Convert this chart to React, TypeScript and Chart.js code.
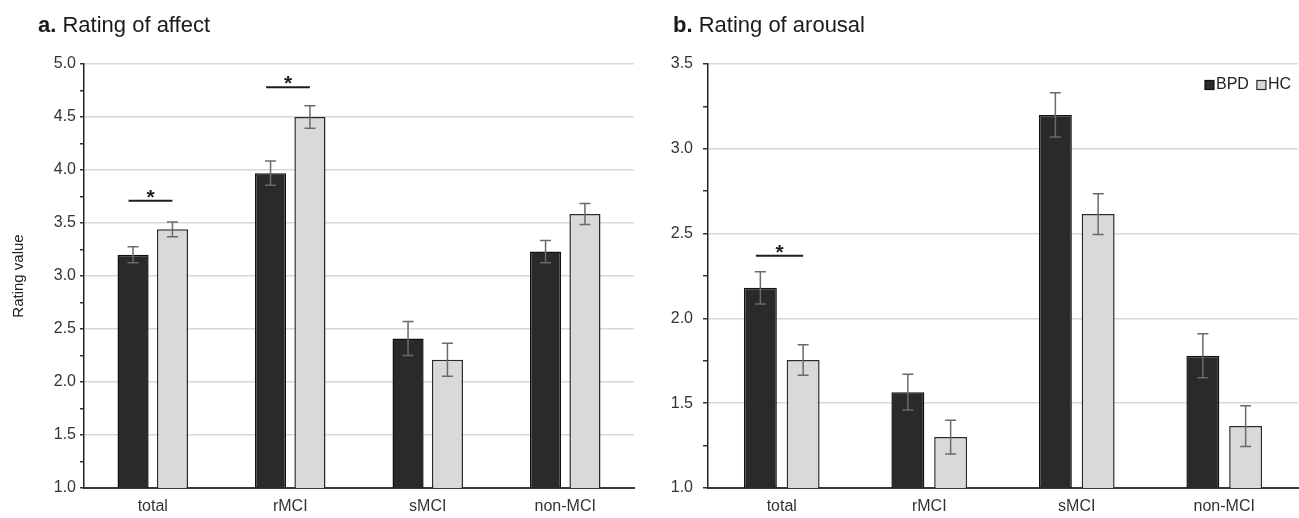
import React, { useEffect, useRef } from "react";
import { Chart, registerables } from "chart.js";

Chart.register(...registerables);

// ---------- data ----------
const categories = ["total", "rMCI", "sMCI", "non-MCI"];
const seriesNames = ["BPD", "HC"];

const affectBPD = [3.2, 3.97, 2.41, 3.23];
const affectBPDErr = [0.075, 0.115, 0.16, 0.105];
const affectHC = [3.44, 4.5, 2.21, 3.585];
const affectHCErr = [0.07, 0.105, 0.155, 0.1];
const affectSig = [3.71, 4.78, null, null];
const affectRange = [1, 5];

const arousalBPD = [2.18, 1.565, 3.2, 1.78];
const arousalBPDErr = [0.095, 0.105, 0.13, 0.13];
const arousalHC = [1.755, 1.3, 2.615, 1.365];
const arousalHCErr = [0.09, 0.1, 0.12, 0.12];
const arousalSig = [2.37, null, null, null];
const arousalRange = [1, 3.5];

const FONT = "'Liberation Sans', Arial, Helvetica, sans-serif";

// ---------- plugins ----------
const errorBarPlugin = {
  id: "errorBars",
  afterDatasetsDraw(chart: any) {
    const ctx = chart.ctx;
    const y = chart.scales.y;
    chart.data.datasets.forEach((ds: any, i: number) => {
      const meta = chart.getDatasetMeta(i);
      const errs = ds.errors || [];
      meta.data.forEach((bar: any, j: number) => {
        const v = ds.data[j];
        const e = errs[j];
        if (v == null || e == null) return;
        const top = y.getPixelForValue(v + e);
        const bot = y.getPixelForValue(v - e);
        ctx.save();
        ctx.strokeStyle = "#6a6a6a";
        ctx.lineWidth = 1.5;
        ctx.beginPath();
        ctx.moveTo(bar.x, top);
        ctx.lineTo(bar.x, bot);
        ctx.moveTo(bar.x - 5.5, top);
        ctx.lineTo(bar.x + 5.5, top);
        ctx.moveTo(bar.x - 5.5, bot);
        ctx.lineTo(bar.x + 5.5, bot);
        ctx.stroke();
        ctx.restore();
      });
    });
  },
};

const sigPlugin = {
  id: "sig",
  afterDatasetsDraw(chart: any, _args: any, opts: any) {
    const vals = (opts && opts.values) || [];
    const ctx = chart.ctx;
    const m0 = chart.getDatasetMeta(0);
    const m1 = chart.getDatasetMeta(1);
    vals.forEach((v: number | null, j: number) => {
      if (v == null) return;
      const x0 = m0.data[j].x - 4.5;
      const x1 = m1.data[j].x;
      const yy = chart.scales.y.getPixelForValue(v);
      ctx.save();
      ctx.strokeStyle = "#1e1e1e";
      ctx.lineWidth = 2;
      ctx.beginPath();
      ctx.moveTo(x0, yy);
      ctx.lineTo(x1, yy);
      ctx.stroke();
      ctx.fillStyle = "#1e1e1e";
      ctx.font = `bold 21px ${FONT}`;
      ctx.textAlign = "center";
      ctx.textBaseline = "alphabetic";
      ctx.fillText("*", (x0 + x1) / 2, yy + 3);
      ctx.restore();
    });
  },
};

// legend drawn in the top-right corner of the plot area, from the datasets
const cornerLegendPlugin = {
  id: "cornerLegend",
  afterDraw(chart: any, _args: any, opts: any) {
    if (!opts || !opts.show) return;
    const ctx = chart.ctx;
    const area = chart.chartArea;
    ctx.save();
    ctx.font = `16px ${FONT}`;
    ctx.textBaseline = "alphabetic";
    ctx.textAlign = "left";
    const baseline = area.top + 25;
    const box = 9;
    const gapBoxText = 2;
    const gapItems = 8;
    const items = chart.data.datasets.map((ds: any) => ({
      label: ds.label,
      fill: ds.backgroundColor,
      stroke: ds.borderColor,
      w: ctx.measureText(ds.label).width,
    }));
    let total = 0;
    items.forEach((it: any, i: number) => {
      total += box + gapBoxText + it.w + (i > 0 ? gapItems : 0);
    });
    let x = area.right - 7 - total;
    items.forEach((it: any, i: number) => {
      if (i > 0) x += gapItems;
      ctx.fillStyle = it.fill;
      ctx.fillRect(x, baseline - 8.5, box, box);
      ctx.strokeStyle = it.stroke;
      ctx.lineWidth = 1.2;
      ctx.strokeRect(x, baseline - 8.5, box, box);
      x += box + gapBoxText;
      ctx.fillStyle = "#222";
      ctx.fillText(it.label, x, baseline);
      x += it.w;
    });
    ctx.restore();
  },
};

// ---------- chart component ----------
type Props = {
  bpd: number[];
  bpdErr: number[];
  hc: number[];
  hcErr: number[];
  sig: (number | null)[];
  range: number[];
  width: number;
  height: number;
  yAxisWidth: number;
  padRight: number;
  tickPad: number;
  tickLen: number;
  cat: number;
  bar: number;
  yTitle?: string;
  legend?: boolean;
};

function BarPanel(p: Props) {
  const ref = useRef<HTMLCanvasElement | null>(null);
  useEffect(() => {
    if (!ref.current) return;
    const isHalf = (v: number) => Math.abs(v * 2 - Math.round(v * 2)) < 1e-6;
    const chart = new Chart(ref.current, {
      type: "bar",
      data: {
        labels: categories,
        datasets: [
          {
            label: seriesNames[0],
            data: p.bpd,
            errors: p.bpdErr,
            backgroundColor: "#2a2a2a",
            borderColor: "#111111",
            borderWidth: 1.5,
          } as any,
          {
            label: seriesNames[1],
            data: p.hc,
            errors: p.hcErr,
            backgroundColor: "#d9d9d9",
            borderColor: "#2a2a2a",
            borderWidth: 1.5,
          } as any,
        ],
      },
      options: {
        responsive: false,
        maintainAspectRatio: false,
        animation: false,
        datasets: {
          bar: {
            categoryPercentage: p.cat,
            barPercentage: p.bar,
            borderSkipped: "bottom",
          },
        },
        layout: { padding: { top: 64, right: p.padRight, left: 0, bottom: 0 } },
        plugins: {
          legend: { display: false },
          tooltip: { enabled: false },
          sig: { values: p.sig },
          cornerLegend: { show: !!p.legend },
        } as any,
        scales: {
          x: {
            grid: { display: true, drawOnChartArea: false, drawTicks: false },
            border: { display: true, color: "#3a3a3a", width: 2 },
            ticks: {
              color: "#333",
              padding: 9,
              font: { family: FONT, size: 16 },
            },
            afterFit: (s: any) => {
              s.height = 30;
            },
          },
          y: {
            min: p.range[0],
            max: p.range[1],
            grid: {
              color: (c: any) => (c.tick && isHalf(c.tick.value) ? "#d8d8d8" : "rgba(0,0,0,0)"),
              lineWidth: 1.5,
              tickColor: "#333",
              tickLength: p.tickLen,
            },
            border: { display: true, color: "#222", width: 1.5 },
            ticks: {
              stepSize: 0.25,
              autoSkip: false,
              padding: p.tickPad,
              color: "#333",
              font: { family: FONT, size: 16 },
              callback: (v: any) => (isHalf(Number(v)) ? Number(v).toFixed(1) : ""),
            },
            title: p.yTitle
              ? {
                  display: true,
                  text: p.yTitle,
                  color: "#222",
                  font: { family: FONT, size: 15 },
                  padding: { top: 10, bottom: 0 },
                }
              : { display: false },
            afterFit: (s: any) => {
              s.width = p.yAxisWidth;
            },
          },
        },
      } as any,
      plugins: [errorBarPlugin, sigPlugin, cornerLegendPlugin],
    });
    return () => chart.destroy();
  }, []);
  return (
    <canvas
      ref={ref}
      width={p.width}
      height={p.height}
      style={{ display: "block", width: p.width, height: p.height }}
    />
  );
}

export default function App() {
  const titleStyle: React.CSSProperties = {
    position: "absolute",
    top: 14,
    fontFamily: FONT,
    fontSize: 22,
    lineHeight: "22px",
    color: "#1a1a1a",
    whiteSpace: "nowrap",
  };
  return (
    <div
      style={{
        position: "fixed",
        left: 0,
        top: 0,
        width: 1299,
        height: 518,
        background: "#fff",
        overflow: "hidden",
      }}
    >
      <div style={{ position: "absolute", left: 0, top: 0 }}>
        <BarPanel
          bpd={affectBPD}
          bpdErr={affectBPDErr}
          hc={affectHC}
          hcErr={affectHCErr}
          sig={affectSig}
          range={affectRange}
          width={640}
          height={518}
          yAxisWidth={84}
          padRight={6}
          tickPad={4}
          tickLen={4}
          cat={0.573}
          bar={0.79}
          yTitle="Rating value"
        />
      </div>
      <div style={{ position: "absolute", left: 640, top: 0 }}>
        <BarPanel
          bpd={arousalBPD}
          bpdErr={arousalBPDErr}
          hc={arousalHC}
          hcErr={arousalHCErr}
          sig={arousalSig}
          range={arousalRange}
          width={659}
          height={518}
          yAxisWidth={68}
          padRight={1}
          tickPad={10}
          tickLen={5}
          cat={0.58}
          bar={0.77}
          legend
        />
      </div>
      <div style={{ ...titleStyle, left: 38 }}>
        <b>a.</b> Rating of affect
      </div>
      <div style={{ ...titleStyle, left: 673 }}>
        <b>b.</b> Rating of arousal
      </div>
    </div>
  );
}
